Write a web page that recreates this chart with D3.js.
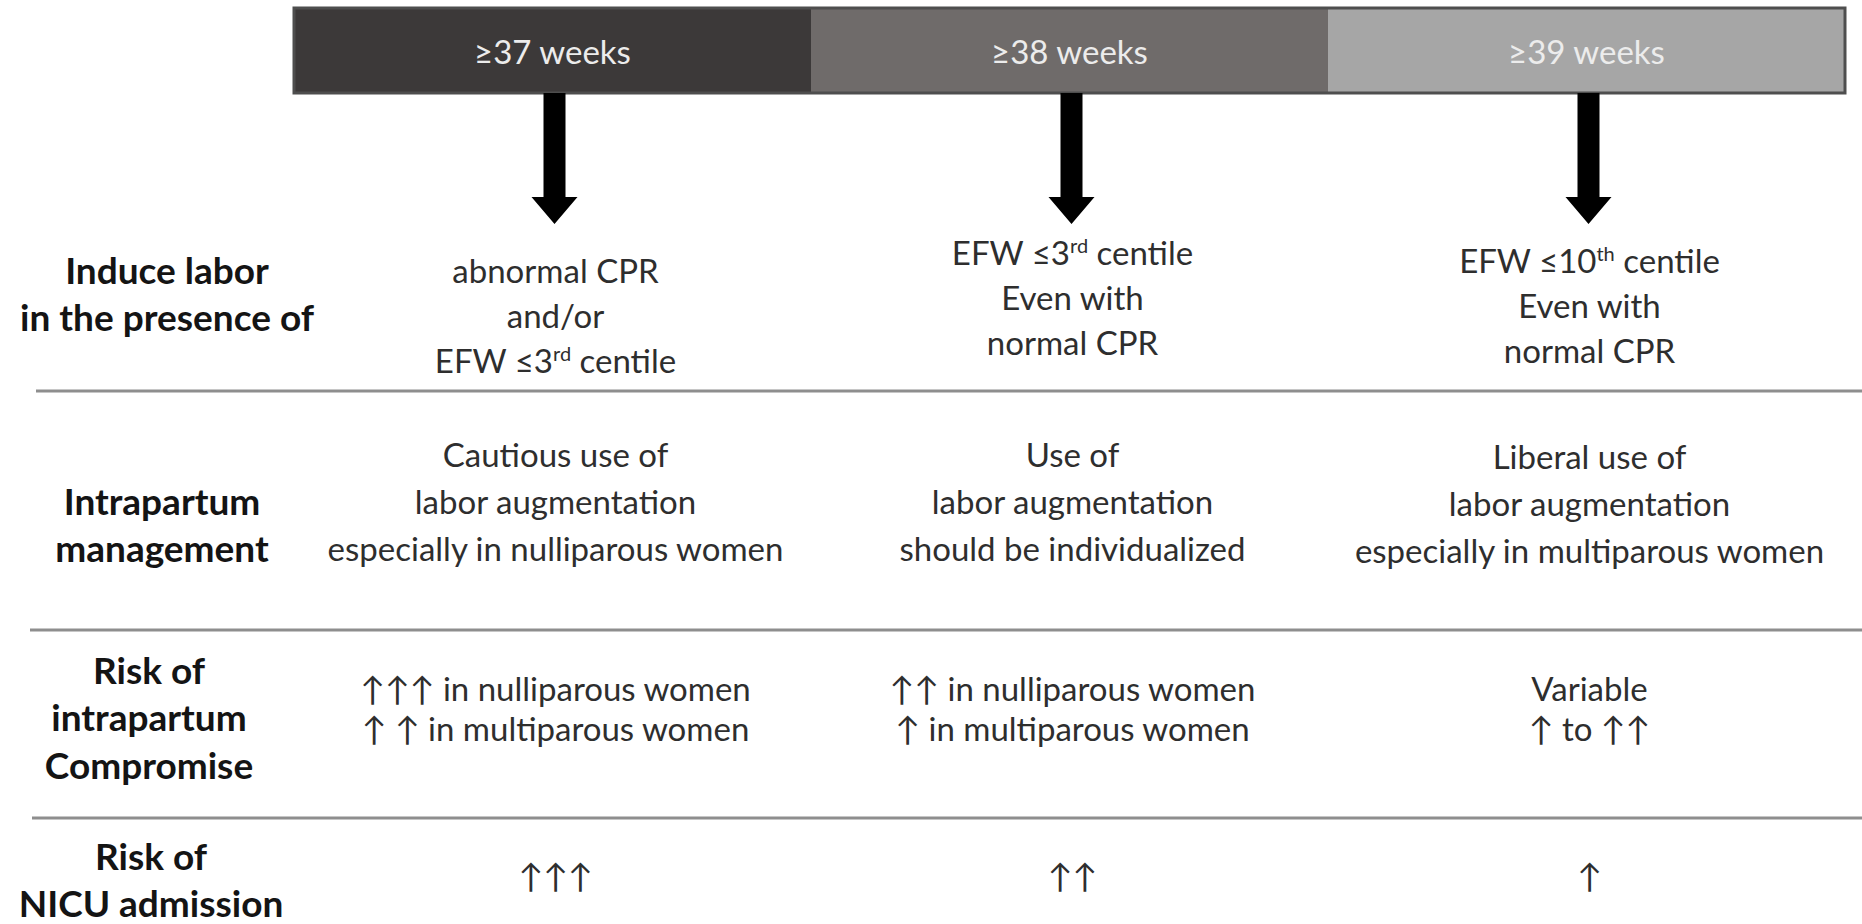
<!DOCTYPE html>
<html lang="en">
<head>
<meta charset="UTF-8">
<title>Timing of delivery and intrapartum management</title>
<script src="https://d3js.org/d3.v7.min.js"></script>
<style>
  body { margin: 0; background: #fff; }
  svg text { font-family: Lato, "Open Sans", sans-serif; }
  .head { font-size: 33px; fill: #ececec; text-anchor: middle; }
  .cell { font-size: 33px; fill: #2e2e2e; text-anchor: middle; }
  .rowlab { font-size: 37px; font-weight: bold; fill: #141414; text-anchor: middle; }
  .sep { stroke: #8e8e8e; stroke-width: 3; }
</style>
</head>
<body>
<svg width="1862" height="924"></svg>
<script>
// gestational age thresholds (top bar)
const weeks = ["≥37 weeks", "≥38 weeks", "≥39 weeks"];

// row headings, left column
const rowLabels = [
  ["Induce labor", "in the presence of"],
  ["Intrapartum", "management"],
  ["Risk of", "intrapartum", "Compromise"],
  ["Risk of", "NICU admission"]
];

// cell texts per column, {..} = superscript
const induceLabor = [
  ["abnormal CPR", "and/or", "EFW ≤3{rd} centile"],
  ["EFW ≤3{rd} centile", "Even with", "normal CPR"],
  ["EFW ≤10{th} centile", "Even with", "normal CPR"]
];
const intrapartumMgmt = [
  ["Cautious use of", "labor augmentation", "especially in nulliparous women"],
  ["Use of", "labor augmentation", "should be individualized"],
  ["Liberal use of", "labor augmentation", "especially in multiparous women"]
];
const compromiseRisk = [
  ["↑↑↑ in nulliparous women", "↑ ↑ in multiparous women"],
  ["↑↑ in nulliparous women", "↑ in multiparous women"],
  ["Variable", "↑ to ↑↑"]
];
const nicuRisk = [["↑↑↑"], ["↑↑"], ["↑"]];

// layout
const segFill = ["#3c3939", "#6f6b6a", "#a6a6a6"];
const barTop = 8, barBottom = 93;
const rows = [
  { label: rowLabels[0], cells: induceLabor,     labX: 167, labY: 271, cellY: [271, 253, 261], lh: 45 },
  { label: rowLabels[1], cells: intrapartumMgmt, labX: 162, labY: 502, cellY: [455, 455, 457], lh: 47 },
  { label: rowLabels[2], cells: compromiseRisk,  labX: 149, labY: 671, cellY: [689, 689, 689], lh: 40 },
  { label: rowLabels[3], cells: nicuRisk,        labX: 151, labY: 857, cellY: [876, 876, 876], lh: 47 }
];
const seps = [{ y: 391, x0: 36 }, { y: 630, x0: 30 }, { y: 818, x0: 32 }];

const svg = d3.select("svg");
const x = d3.scaleBand().domain(weeks).range([294, 1845]);
const cx = i => x(weeks[i]) + x.bandwidth() / 2 + 3;

// top bar
svg.selectAll(".seg").data(weeks).enter().append("rect")
  .attr("class", "seg")
  .attr("x", d => x(d)).attr("y", barTop)
  .attr("width", x.bandwidth()).attr("height", barBottom - barTop)
  .attr("fill", (d, i) => segFill[i]);
svg.append("rect")
  .attr("x", 294).attr("y", barTop)
  .attr("width", 1845 - 294).attr("height", barBottom - barTop)
  .attr("fill", "none").attr("stroke", "#4e4e4e").attr("stroke-width", 3);
svg.selectAll(".head").data(weeks).enter().append("text")
  .attr("class", "head")
  .attr("x", (d, i) => cx(i) - 3).attr("y", 52).attr("dy", "0.35em")
  .text(d => d);

// down arrows
svg.selectAll(".arrow").data(weeks).enter().append("path")
  .attr("fill", "#000")
  .attr("d", (d, i) => {
    const c = cx(i) - 1;
    return `M${c - 11},${barBottom} L${c + 11},${barBottom} L${c + 11},197 L${c + 23},197 L${c},224 L${c - 23},197 L${c - 11},197 Z`;
  });

// separators
svg.selectAll(".sep").data(seps).enter().append("line")
  .attr("class", "sep")
  .attr("x1", d => d.x0).attr("x2", 1862)
  .attr("y1", d => d.y).attr("y2", d => d.y);

// write a line, handling {sup} parts
function addLine(sel, str) {
  const parts = str.split(/(\{[^}]+\})/).filter(p => p.length);
  let raised = false;
  parts.forEach(p => {
    if (p.startsWith("{")) {
      sel.append("tspan").attr("dy", -12).attr("font-size", 20).text(p.slice(1, -1));
      raised = true;
    } else {
      const t = sel.append("tspan").text(p);
      if (raised) { t.attr("dy", 12); raised = false; }
    }
  });
}

rows.forEach(r => {
  r.label.forEach((ln, j) => {
    svg.append("text").attr("class", "rowlab")
      .attr("x", r.labX).attr("y", r.labY + j * 47.5).attr("dy", "0.35em")
      .text(ln);
  });
  r.cells.forEach((lines, i) => {
    lines.forEach((ln, j) => {
      const t = svg.append("text").attr("class", "cell")
        .attr("x", cx(i)).attr("y", r.cellY[i] + j * r.lh).attr("dy", "0.35em");
      addLine(t, ln);
    });
  });
});
</script>
</body>
</html>
